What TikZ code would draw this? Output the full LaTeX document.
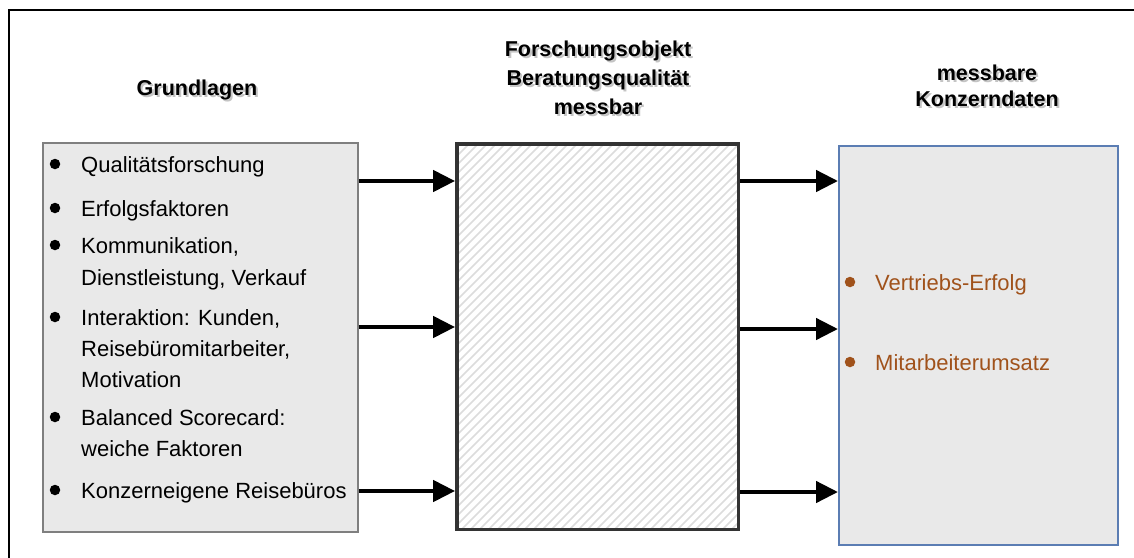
\documentclass[tikz,border=0pt]{standalone}
\usepackage{fontspec}
\setmainfont{Liberation Sans}
\usetikzlibrary{arrows.meta}
\definecolor{boxgray}{HTML}{E9E9E9}
\definecolor{boxedge}{HTML}{7F7F7F}
\definecolor{blueedge}{HTML}{5B7DB3}
\definecolor{brownt}{HTML}{A0521B}
\definecolor{hatch}{HTML}{DCDCDC}
\definecolor{midedge}{HTML}{333333}
\definecolor{shadowc}{HTML}{C4C4C4}
\begin{document}
\begin{tikzpicture}[x=1pt,y=-1pt,
  title/.style={font=\fontsize{21.5}{25}\selectfont\bfseries, inner sep=0pt, anchor=base},
  tshadow/.style={title, text=shadowc},
  item/.style={font=\fontsize{22}{24}\selectfont, inner sep=0pt, anchor=base west},
  ritem/.style={item, text=brownt},
  bul/.style={circle, fill=black, inner sep=0pt, minimum size=10.5pt},
  rbul/.style={bul, fill=brownt},
  graybox/.style={draw=boxedge, fill=boxgray, line width=1.5pt, anchor=north west, inner sep=0pt},
  conn/.style={line width=4.5pt, -{Triangle[length=22pt,width=21pt]}}]
\useasboundingbox (0,0) rectangle (1134,557);
\fill[white] (0,0) rectangle (1134,557);
% outer frame
\draw[line width=2pt] (9,560) -- (9,10) -- (1136,10);

% titles
\node[tshadow] (t1s) at (199,97) {Grundlagen};
\node[title] (t1) at (197,95) {Grundlagen};
\node[tshadow] (t2as) at (600,58) {Forschungsobjekt};
\node[title] (t2a) at (598,56) {Forschungsobjekt};
\node[tshadow] (t2bs) at (600,87) {Beratungsqualität};
\node[title] (t2b) at (598,85) {Beratungsqualität};
\node[tshadow] (t2cs) at (600,116) {messbar};
\node[title] (t2c) at (598,114) {messbar};
\node[tshadow] (t3as) at (989,82) {messbare};
\node[title] (t3a) at (987,80) {messbare};
\node[tshadow] (t3bs) at (989,108) {Konzerndaten};
\node[title] (t3b) at (987,106) {Konzerndaten};

% boxes
\node[graybox, minimum width=315pt, minimum height=389pt] (L) at (42,142) {};
\node[fill=white, anchor=north west, inner sep=0pt,
      minimum width=281pt, minimum height=385pt] (M) at (457,144) {};
\begin{scope}
  \clip (M.north west) rectangle (M.south east);
  \foreach \i in {0,9,...,700}
    \draw[hatch, line width=1.6pt] (57+\i,529) -- ++(400,-400);
\end{scope}
\draw[midedge, line width=3.8pt] (M.north west) rectangle (M.south east);
\node[graybox, draw=blueedge, minimum width=279pt, minimum height=399pt] (R) at (838,145) {};

% left list
\node[bul] (b1) at (55,164) {};
\node[item] (i1) at (81,172) {Qualitätsforschung};
\node[bul] (b2) at (55,208) {};
\node[item] (i2) at (81,216) {Erfolgsfaktoren};
\node[bul] (b3) at (55,245) {};
\node[item] (i3a) at (81,253) {Kommunikation,};
\node[item] (i3b) at (81,285) {Dienstleistung, Verkauf};
\node[bul] (b4) at (55,317) {};
\node[item] (i4a) at (81,325) {Interaktion: Kunden,};
\node[item] (i4b) at (81,356) {Reisebüromitarbeiter,};
\node[item] (i4c) at (81,387) {Motivation};
\node[bul] (b5) at (55,417) {};
\node[item] (i5a) at (81,425) {Balanced Scorecard:};
\node[item] (i5b) at (81,456) {weiche Faktoren};
\node[bul] (b6) at (55,490) {};
\node[item] (i6) at (81,498) {Konzerneigene Reisebüros};

% right list
\node[rbul] (rb1) at (850,282) {};
\node[ritem] (r1) at (875,290) {Vertriebs-Erfolg};
\node[rbul] (rb2) at (850,362) {};
\node[ritem] (r2) at (875,370) {Mitarbeiterumsatz};

% connectors
\draw[conn] (L.east |- 0,181) -- ([xshift=-1.9pt]M.west |- 0,181);
\draw[conn] (L.east |- 0,327) -- ([xshift=-1.9pt]M.west |- 0,327);
\draw[conn] (L.east |- 0,491) -- ([xshift=-1.9pt]M.west |- 0,491);
\draw[conn] ([xshift=1.9pt]M.east |- 0,181) -- (R.west |- 0,181);
\draw[conn] ([xshift=1.9pt]M.east |- 0,329) -- (R.west |- 0,329);
\draw[conn] ([xshift=1.9pt]M.east |- 0,492) -- (R.west |- 0,492);
\end{tikzpicture}
\end{document}
